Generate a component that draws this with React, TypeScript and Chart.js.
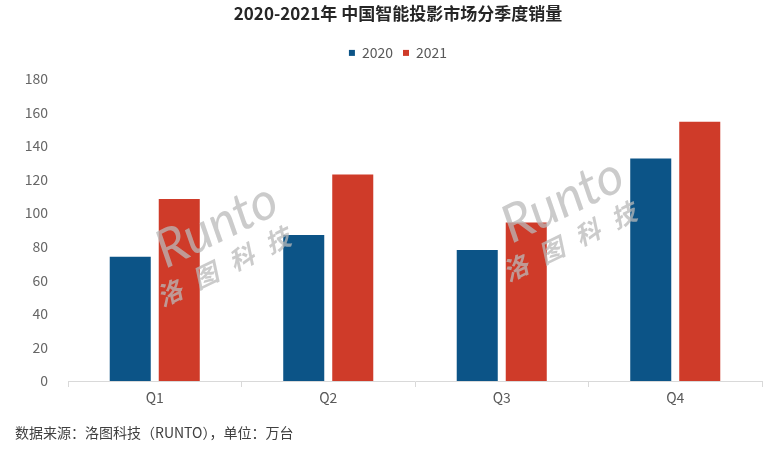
import { useEffect, useRef } from "react";
import { Chart, registerables } from "chart.js";

Chart.register(...registerables);

const categories = ["Q1", "Q2", "Q3", "Q4"];
const seriesNames = ["2020", "2021"];
const values2020 = [74, 87, 78, 132.5];
const values2021 = [108.5, 123, 94.5, 154.5];
const seriesColors = ["#0c5487", "#cf3b29"];
const yMin = 0;
const yMax = 180;
const yStep = 20;
const titleText = "2020-2021年 中国智能投影市场分季度销量";
const footerText = "数据来源：洛图科技（RUNTO），单位：万台";
const watermarkLatin = "Runto";
const watermarkChars = ["洛", "图", "科", "技"];

const FONT = "'Noto Sans CJK SC', 'Noto Sans', sans-serif";
const TICK_FONT_SIZE = 14;

function widestLabel(): number {
  const c = document.createElement("canvas");
  const ctx = c.getContext("2d");
  if (!ctx) return 24;
  ctx.font = `${TICK_FONT_SIZE}px ${FONT}`;
  let w = 0;
  for (let v = yMin; v <= yMax; v += yStep) {
    w = Math.max(w, ctx.measureText(String(v)).width);
  }
  return w;
}

const decorPlugin = {
  id: "decor",
  afterDatasetsDraw(chart: any) {
    const ctx = chart.ctx as CanvasRenderingContext2D;
    const drawMark = (cx: number, cy: number) => {
      ctx.save();
      ctx.translate(cx, cy);
      ctx.rotate((-26 * Math.PI) / 180);
      ctx.fillStyle = "rgba(185,185,185,0.75)";
      ctx.textAlign = "center";
      ctx.textBaseline = "middle";
      ctx.font = "italic 400 52px 'Lato', 'Noto Sans', sans-serif";
      ctx.fillText(watermarkLatin, 6, -20);
      ctx.font = "italic bold 25px 'Noto Sans CJK SC', sans-serif";
      watermarkChars.forEach((ch, i) => {
        ctx.fillText(ch, -6 + (i - 1.5) * 40, 20);
      });
      ctx.restore();
    };
    drawMark(220, 246);
    drawMark(566, 221);
  },
  afterDraw(chart: any) {
    const ctx = chart.ctx as CanvasRenderingContext2D;
    ctx.save();
    ctx.font = `14px ${FONT}`;
    ctx.fillStyle = "#404040";
    ctx.textAlign = "left";
    ctx.textBaseline = "middle";
    ctx.fillText(footerText, 15, 433);
    ctx.restore();
  },
};

export default function App() {
  const canvasRef = useRef<HTMLCanvasElement | null>(null);

  useEffect(() => {
    if (!canvasRef.current) return;
    const widest = widestLabel();
    const chart = new Chart(canvasRef.current, {
      type: "bar",
      data: {
        labels: categories,
        datasets: [
          {
            label: seriesNames[0],
            data: values2020,
            backgroundColor: seriesColors[0],
            borderWidth: 0,
            categoryPercentage: 0.565,
            barPercentage: 0.837,
          },
          {
            label: seriesNames[1],
            data: values2021,
            backgroundColor: seriesColors[1],
            borderWidth: 0,
            categoryPercentage: 0.565,
            barPercentage: 0.837,
          },
        ],
      },
      options: {
        responsive: true,
        maintainAspectRatio: false,
        animation: false,
        events: [],
        layout: { padding: { left: 34, right: 5, top: 3.5, bottom: 54 } },
        plugins: {
          title: {
            display: true,
            text: titleText,
            color: "#262626",
            font: { family: FONT, size: 17, weight: "bold", lineHeight: 1.2 },
            padding: { top: 0, bottom: 12 },
          },
          legend: {
            display: true,
            position: "top",
            labels: {
              boxWidth: 6,
              boxHeight: 6,
              padding: 10,
              color: "#595959",
              font: { family: FONT, size: 14 },
            },
          },
          subtitle: {
            display: true,
            text: "",
            position: "top",
            weight: 500,
            padding: 0,
            font: { size: 9, lineHeight: 1 },
          } as any,
          tooltip: { enabled: false },
        },
        scales: {
          x: {
            grid: {
              display: true,
              drawOnChartArea: false,
              drawTicks: true,
              tickLength: 6,
              color: "#d9d9d9",
              offset: true,
            },
            border: { display: true, color: "#d9d9d9", width: 1 },
            ticks: { color: "#595959", font: { family: FONT, size: 14 }, padding: 2 },
            afterFit: (s: any) => {
              s.height = 30;
            },
          },
          y: {
            min: yMin,
            max: yMax,
            ticks: {
              stepSize: yStep,
              color: "#666666",
              font: { family: FONT, size: TICK_FONT_SIZE },
              mirror: true,
              crossAlign: "far",
              padding: -(20 + widest),
            },
            grid: { display: false },
            border: { display: false },
            afterFit: (s: any) => {
              s.width = 34;
            },
          },
        },
      },
      plugins: [decorPlugin],
    });
    return () => chart.destroy();
  }, []);

  return (
    <div style={{ position: "fixed", left: 0, top: 0, width: 767, height: 465, background: "#fff" }}>
      <canvas ref={canvasRef} />
    </div>
  );
}
